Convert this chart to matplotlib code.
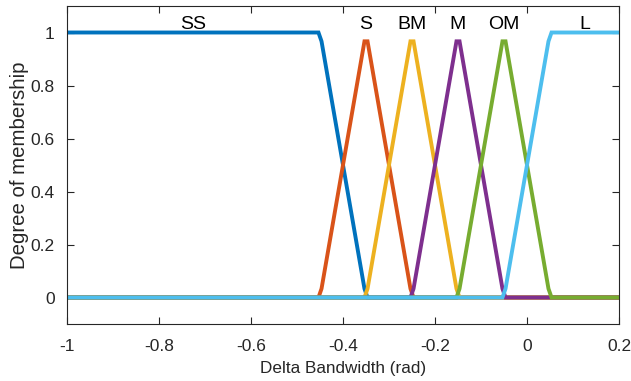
import numpy as np
import matplotlib
matplotlib.use("Agg")
import matplotlib.pyplot as plt

plt.rcParams["font.family"] = ["Liberation Sans", "DejaVu Sans"]

# membership functions: name, type, parameters
mf_names = ["SS", "S", "BM", "M", "OM", "L"]
mf_types = ["trap", "tri", "tri", "tri", "tri", "trap"]
mf_params = [
    [-1.45, -1.0, -0.45, -0.35],
    [-0.45, -0.35, -0.25],
    [-0.35, -0.25, -0.15],
    [-0.25, -0.15, -0.05],
    [-0.15, -0.05, 0.05],
    [-0.05, 0.05, 0.2, 0.65],
]
colors = ["#0072BD", "#D95319", "#EDB120", "#7E2F8E", "#77AC30", "#4DBEEE"]
x_range = [-1.0, 0.2]
n_points = 181  # same sampling as plotmf


def trapmf(x, p):
    a, b, c, d = p
    left = np.ones_like(x) if b == a else (x - a) / (b - a)
    right = np.ones_like(x) if d == c else (d - x) / (d - c)
    return np.clip(np.minimum(np.minimum(left, 1.0), right), 0, 1)


def trimf(x, p):
    a, b, c = p
    return trapmf(x, [a, b, b, c])


x = np.linspace(x_range[0], x_range[1], n_points)

fig = plt.figure(figsize=(6.31, 3.81), dpi=100)
ax = fig.add_axes([67 / 631, 1 - 324 / 381, 552 / 631, 318 / 381])

for name, kind, p, c in zip(mf_names, mf_types, mf_params, colors):
    y = trapmf(x, p) if kind == "trap" else trimf(x, p)
    ax.plot(x, y, color=c, lw=2.8, solid_joinstyle="miter")
    top = x[np.isclose(y, y.max())]
    ax.text(top.mean(), 1.0, name, ha="center", va="bottom", fontsize=14, color="black")

ax.set_xlim(x_range)
ax.set_ylim(-0.1, 1.1)
ax.set_xticks([-1, -0.8, -0.6, -0.4, -0.2, 0, 0.2])
ax.set_xticklabels(["-1", "-0.8", "-0.6", "-0.4", "-0.2", "0", "0.2"])
ax.set_yticks([0, 0.2, 0.4, 0.6, 0.8, 1])
ax.set_yticklabels(["0", "0.2", "0.4", "0.6", "0.8", "1"])
ax.tick_params(direction="in", top=True, right=True, length=5, width=0.8,
               labelsize=12.5, colors="#262626")
ax.tick_params(axis="x", pad=11)
ax.tick_params(axis="y", pad=9)
for s in ax.spines.values():
    s.set_color("#262626")
    s.set_linewidth(0.8)

ax.set_xlabel("Delta Bandwidth (rad)", fontsize=12.3, color="#262626", labelpad=5)
ax.set_ylabel("Degree of membership", fontsize=14.7, color="#262626", labelpad=1)

fig.savefig("out.png", dpi=100)
